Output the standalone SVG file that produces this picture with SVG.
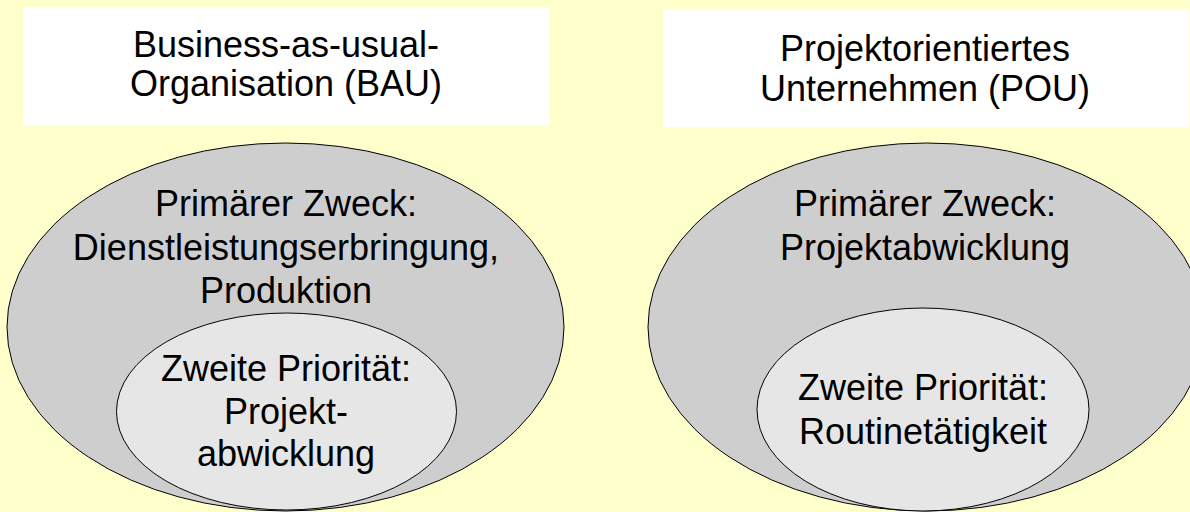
<svg xmlns="http://www.w3.org/2000/svg" width="1190" height="512" viewBox="0 0 1190 512">
<style>
.t{font-family:"Liberation Sans",Arial,sans-serif;font-size:36px;fill:#000;text-anchor:middle}
.box{fill:#FFFFFF;stroke:none}
.outer{fill:#CECECE;stroke:#000;stroke-width:1}
.inner{fill:#E6E6E6;stroke:#000;stroke-width:1}
</style>
<rect x="0" y="0" width="1190" height="512" fill="#FFFFCC"/>
<g id="bau-title">
<rect class="box" x="23" y="7" width="526" height="118"/>
<text class="t" x="286" y="57">Business-as-usual-</text>
<text class="t" x="286" y="96">Organisation (BAU)</text>
</g>
<g id="pou-title">
<rect class="box" x="663" y="9" width="526" height="118"/>
<text class="t" x="925" y="61">Projektorientiertes</text>
<text class="t" x="925" y="101">Unternehmen (POU)</text>
</g>
<g id="bau-primary">
<ellipse class="outer" cx="285.5" cy="327" rx="278.5" ry="184"/>
<text class="t" x="286" y="216">Primärer Zweck:</text>
<text class="t" x="286" y="260">Dienstleistungserbringung,</text>
<text class="t" x="286" y="303">Produktion</text>
</g>
<g id="bau-secondary">
<ellipse class="inner" cx="286.5" cy="411.5" rx="170" ry="98.5"/>
<text class="t" x="286" y="381">Zweite Priorität:</text>
<text class="t" x="286" y="424">Projekt-</text>
<text class="t" x="286" y="466">abwicklung</text>
</g>
<g id="pou-primary">
<ellipse class="outer" cx="926.5" cy="327" rx="278.5" ry="184"/>
<text class="t" x="925" y="216">Primärer Zweck:</text>
<text class="t" x="925" y="260">Projektabwicklung</text>
</g>
<g id="pou-secondary">
<ellipse class="inner" cx="923" cy="409.5" rx="166" ry="101.5"/>
<text class="t" x="923" y="400">Zweite Priorität:</text>
<text class="t" x="923" y="444">Routinetätigkeit</text>
</g>
<g id="connectors"/>
</svg>
